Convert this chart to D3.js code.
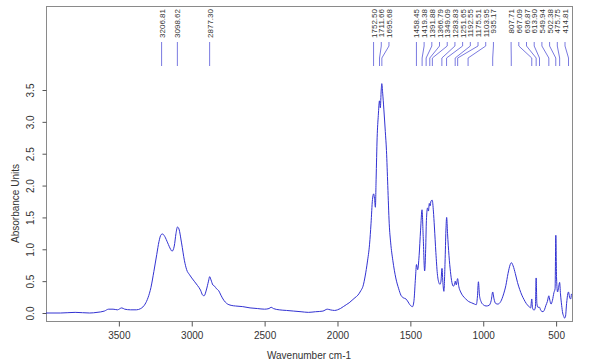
<!DOCTYPE html>
<html><head><meta charset="utf-8">
<script src="https://cdn.jsdelivr.net/npm/d3@7"></script>
<style>html,body{margin:0;padding:0;background:#fff;}svg{display:block;}</style>
</head><body>
<svg id="chart" width="602" height="364"></svg>
<script>
// Spectrum: wavenumber (cm-1) and absorbance
const wavenumbers = [4000,3900,3800,3700,3650,3600,3570,3540,3510,3480,3460,3420,3380,3350,3320,3300,3280,3260,3240,3225,3210,3200,3185,3165,3145,3135,3120,3108,3098,3088,3070,3050,3035,3015,3000,2980,2960,2940,2925,2915,2900,2885,2877,2868,2855,2843,2830,2815,2800,2780,2760,2730,2700,2650,2600,2550,2500,2470,2455,2440,2400,2350,2300,2250,2200,2150,2100,2070,2050,2020,2000,1980,1960,1940,1920,1900,1880,1860,1840,1825,1810,1795,1780,1770,1760,1752,1746,1740,1735,1728,1720,1712,1706,1700,1696,1690,1682,1672,1664,1655,1645,1635,1620,1600,1580,1565,1550,1530,1520,1500,1485,1475,1465,1458,1450,1440,1430,1420,1412,1402,1395,1390,1382,1376,1370,1365,1358,1350,1342,1335,1325,1315,1305,1297,1290,1283,1276,1270,1262,1256,1251,1245,1235,1225,1215,1205,1195,1192,1185,1176,1168,1155,1140,1120,1100,1080,1060,1048,1040,1033,1026,1015,1000,980,960,945,935,926,915,900,880,860,845,830,815,807,795,780,765,750,735,720,705,690,675,667,662,655,648,642,637,632,625,614,605,590,580,570,560,550,543,535,525,515,507,502,497,490,483,476,470,462,455,448,442,436,428,420,415,408,400,395];
const absorbance = [0.00,0.00,0.01,0.00,0.01,0.03,0.06,0.06,0.05,0.08,0.06,0.05,0.05,0.07,0.14,0.24,0.40,0.65,0.92,1.12,1.23,1.24,1.20,1.10,1.00,0.97,1.05,1.25,1.35,1.32,1.10,0.82,0.68,0.60,0.55,0.49,0.43,0.36,0.28,0.27,0.36,0.50,0.57,0.52,0.44,0.42,0.38,0.35,0.28,0.20,0.15,0.12,0.11,0.10,0.08,0.07,0.06,0.07,0.09,0.07,0.05,0.04,0.03,0.02,0.01,0.02,0.03,0.06,0.05,0.04,0.05,0.07,0.10,0.13,0.16,0.20,0.24,0.28,0.35,0.42,0.58,0.80,1.08,1.40,1.78,1.87,1.80,1.66,2.10,2.75,3.10,3.33,3.22,3.50,3.60,3.45,3.20,2.85,2.55,2.00,1.40,1.10,0.82,0.55,0.38,0.28,0.24,0.22,0.19,0.12,0.10,0.20,0.55,0.76,0.68,0.90,1.30,1.62,1.20,0.66,1.00,1.45,1.65,1.60,1.72,1.68,1.76,1.77,1.60,1.35,0.95,0.62,0.48,0.45,0.50,0.70,0.45,0.34,0.80,1.30,1.50,1.25,0.90,0.65,0.48,0.42,0.47,0.50,0.44,0.54,0.42,0.33,0.27,0.22,0.18,0.16,0.14,0.13,0.25,0.49,0.28,0.18,0.13,0.11,0.12,0.20,0.33,0.22,0.15,0.14,0.18,0.30,0.43,0.62,0.76,0.79,0.74,0.62,0.48,0.37,0.28,0.21,0.15,0.11,0.08,0.22,0.08,0.05,0.05,0.10,0.55,0.15,0.09,0.09,0.04,0.02,0.05,0.12,0.18,0.27,0.20,0.14,0.20,0.32,0.38,1.22,0.55,0.33,0.40,0.48,0.30,0.12,0.00,-0.05,-0.08,-0.06,0.15,0.30,0.33,0.25,0.22,0.30];

// Peak labels
const peakLabels = ["3206.81","3098.62","2877.30","1752.50","1711.66","1695.68","1458.45","1419.38","1391.88","1366.79","1349.09","1283.83","1251.65","1192.55","1175.51","1103.95","935.17","807.71","667.09","636.87","613.90","549.94","502.38","475.75","414.81"];

const xTicks = [3500,3000,2500,2000,1500,1000,500];
const yTicks = [0,0.5,1,1.5,2,2.5,3,3.5];
const xTitle = "Wavenumber cm-1";
const yTitle = "Absorbance Units";

const L = 46, R = 572, T = 6, B = 321;
const svg = d3.select("#chart");
const font = "'Liberation Sans', Arial, sans-serif";

const x = d3.scaleLinear().domain([4000, 391]).range([L, R]);
const y = d3.scaleLinear().domain([0, 3.5]).range([313, 90]);

// frame
svg.append("rect").attr("x", L + 0.5).attr("y", T + 0.5).attr("width", R - L).attr("height", B - T)
  .attr("fill", "none").attr("stroke", "#8a8a8a").attr("stroke-width", 1);

// x axis
const xa = svg.append("g").attr("transform", `translate(0,${B + 0.5})`)
  .call(d3.axisBottom(x).tickValues(xTicks).tickSize(5).tickPadding(5).tickFormat(d3.format("d")));
xa.select(".domain").remove();
xa.selectAll("line").attr("stroke", "#555");
xa.selectAll("text").attr("font-family", font).attr("font-size", 10).attr("fill", "#333");

// y axis
const ya = svg.append("g").attr("transform", `translate(${L + 0.5},0)`)
  .call(d3.axisLeft(y).tickValues(yTicks).tickSize(4).tickFormat(d3.format(".1f")));
ya.select(".domain").remove();
ya.selectAll("line").attr("stroke", "#555");
ya.selectAll("text").remove();
ya.selectAll(".tick").append("text")
  .attr("transform", "translate(-13,0) rotate(-90)")
  .attr("text-anchor", "middle")
  .attr("font-family", font).attr("font-size", 10).attr("fill", "#333")
  .text(d => d3.format(".1f")(d));

// titles
svg.append("text").attr("x", (L + R) / 2).attr("y", 359).attr("text-anchor", "middle")
  .attr("font-family", font).attr("font-size", 10).attr("fill", "#333").text(xTitle);
svg.append("text").attr("transform", `translate(19,${(T + B) / 2 + 40}) rotate(-90)`).attr("text-anchor", "middle")
  .attr("font-family", font).attr("font-size", 10).attr("fill", "#333").text(yTitle);

// spectrum
const data = wavenumbers.map((w, i) => [w, absorbance[i]]);
const line = d3.line().x(d => x(d[0])).y(d => y(d[1])).curve(d3.curveMonotoneX);
svg.append("path").datum(data).attr("d", line).attr("fill", "none")
  .attr("stroke", "#3232d2").attr("stroke-width", 1).attr("stroke-linejoin", "round");

// peak label layout: spread labels apart
const px = peakLabels.map(s => x(+s));
const gap = 7.7, maxX = R - 7;
const lx = px.slice();
for (let i = 1; i < lx.length; i++) lx[i] = Math.max(px[i], lx[i - 1] + gap);
lx[lx.length - 1] = Math.min(lx[lx.length - 1], maxX);
for (let i = lx.length - 2; i >= 0; i--) lx[i] = Math.min(lx[i], lx[i + 1] - gap);

const pk = svg.append("g");
peakLabels.forEach((s, i) => {
  pk.append("path")
    .attr("d", `M${lx[i]},42 L${lx[i]},46 L${px[i]},58 L${px[i]},66`)
    .attr("fill", "none").attr("stroke", "#7a7ae0").attr("stroke-width", 1);
  pk.append("text")
    .attr("transform", `translate(${lx[i] + 3},9) rotate(-90)`)
    .attr("text-anchor", "end")
    .attr("font-family", font).attr("font-size", 8).attr("fill", "#333")
    .text(s);
});
</script>
</body></html>
